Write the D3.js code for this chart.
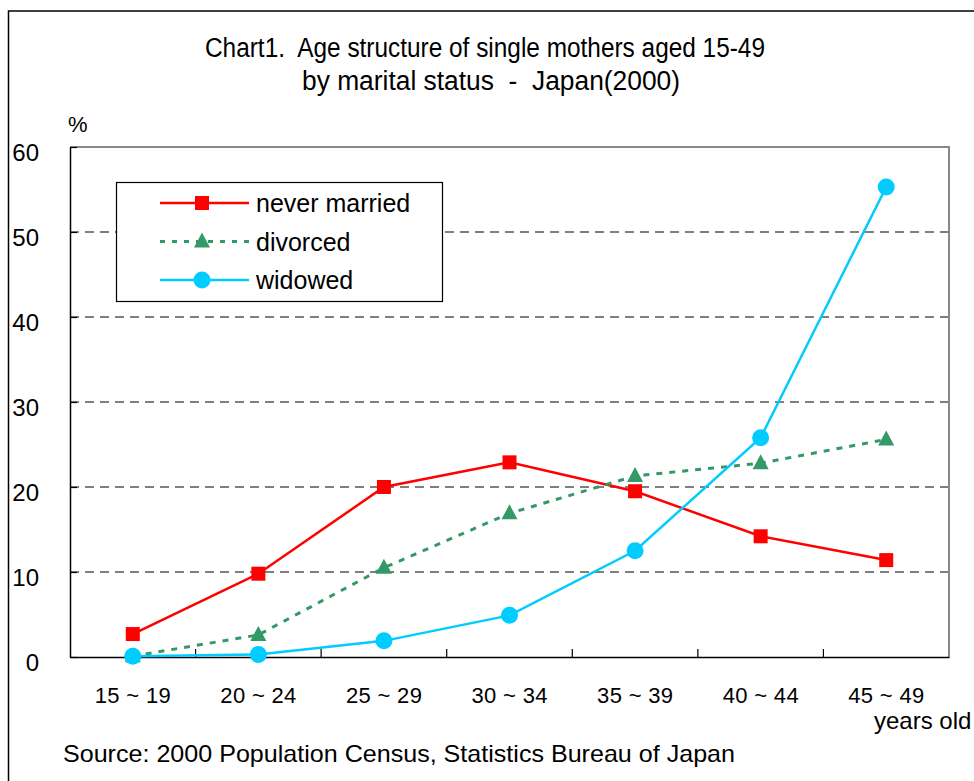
<!DOCTYPE html>
<html>
<head>
<meta charset="utf-8">
<script src="https://cdn.jsdelivr.net/npm/d3@7/dist/d3.min.js"></script>
<style>
  body { margin: 0; background: #fff; }
  svg { display: block; font-family: "Liberation Sans", Arial, sans-serif; }
  text { white-space: pre; }
</style>
</head>
<body>
<div id="vis"></div>
<script>
const frame_width = 974;
const frame_height = 781;
const margins = {left: 70, right: 25, top: 147, bottom: 124};

// data
const age_groups = ["15 ~ 19", "20 ~ 24", "25 ~ 29", "30 ~ 34", "35 ~ 39", "40 ~ 44", "45 ~ 49"];
const never_married = [2.7, 9.8, 20.0, 22.9, 19.5, 14.2, 11.4];
const divorced = [0.1, 2.6, 10.5, 16.9, 21.3, 22.8, 25.6];
const widowed = [0.1, 0.3, 1.9, 4.9, 12.5, 25.8, 55.3];
const y_ticks = [0, 10, 20, 30, 40, 50, 60];

const series = [
    {name: "never married", values: never_married, color: "#ff0000", dash: null, marker: "square"},
    {name: "divorced", values: divorced, color: "#339966", dash: "6,7", marker: "triangle"},
    {name: "widowed", values: widowed, color: "#00ccff", dash: null, marker: "circle"}
];

const FRAME = d3.select("#vis")
    .append("svg")
        .attr("width", frame_width)
        .attr("height", frame_height);

// outer border (runs off the page right and bottom)
FRAME.append("rect")
    .attr("x", 8.5).attr("y", 11)
    .attr("width", 1000).attr("height", 800)
    .attr("fill", "none").attr("stroke", "#000").attr("stroke-width", 1.5);

const X_SCALE = d3.scaleBand()
    .domain(age_groups)
    .range([margins.left, frame_width - margins.right]);

const Y_SCALE = d3.scaleLinear()
    .domain([0, 60])
    .range([frame_height - margins.bottom, margins.top]);

const x0 = margins.left, x1 = frame_width - margins.right;
const y0 = Y_SCALE(0), y1 = Y_SCALE(60);

// grid lines
FRAME.selectAll(".grid")
    .data(y_ticks.filter(d => d > 0 && d < 60))
    .enter()
    .append("line")
        .attr("x1", x0).attr("x2", x1)
        .attr("y1", d => Y_SCALE(d)).attr("y2", d => Y_SCALE(d))
        .attr("stroke", "#555").attr("stroke-width", 1.3)
        .attr("stroke-dasharray", "9,6");

// plot frame top/right (gray)
FRAME.append("path")
    .attr("d", "M" + x0 + "," + y1 + "H" + x1 + "V" + y0)
    .attr("fill", "none").attr("stroke", "#888").attr("stroke-width", 2);

// y axis
const yAxis = FRAME.append("g")
    .attr("transform", "translate(" + x0 + ",0)")
    .call(d3.axisLeft(Y_SCALE).tickValues(y_ticks).tickSizeInner(-7).tickSizeOuter(0).tickPadding(31));
yAxis.select(".domain").attr("stroke", "#000").attr("stroke-width", 1.5);
yAxis.selectAll(".tick line").attr("stroke", "#000").attr("stroke-width", 1.2);
yAxis.selectAll(".tick text")
    .attr("font-size", "24px").attr("fill", "#000")
    .attr("font-family", "Liberation Sans, Arial, sans-serif")
    .attr("dy", "0.55em");

// x axis: boundary ticks + centered labels
const xAxis = FRAME.append("g")
    .attr("transform", "translate(0," + y0 + ")")
    .call(d3.axisBottom(X_SCALE).tickSize(0).tickPadding(30));
xAxis.select(".domain").attr("stroke", "#000").attr("stroke-width", 1.5);
xAxis.selectAll(".tick text")
    .attr("font-size", "22px").attr("fill", "#000")
    .attr("font-family", "Liberation Sans, Arial, sans-serif")
    .attr("textLength", 76).attr("lengthAdjust", "spacing");

FRAME.selectAll(".xtick")
    .data(age_groups.slice(1))
    .enter()
    .append("line")
        .attr("x1", d => X_SCALE(d)).attr("x2", d => X_SCALE(d))
        .attr("y1", y0).attr("y2", y0 - 8)
        .attr("stroke", "#000").attr("stroke-width", 1.2);

// lines
const line = d3.line()
    .x((d, i) => X_SCALE(age_groups[i]) + X_SCALE.bandwidth() / 2)
    .y(d => Y_SCALE(d));

function drawMarker(g, type, color, cx, cy) {
    if (type === "square") {
        g.append("rect").attr("x", cx - 7).attr("y", cy - 7)
            .attr("width", 14).attr("height", 14).attr("fill", color);
    } else if (type === "triangle") {
        g.append("path")
            .attr("d", "M" + cx + "," + (cy - 9) + "L" + (cx + 8) + "," + (cy + 6) + "L" + (cx - 8) + "," + (cy + 6) + "Z")
            .attr("fill", color);
    } else {
        g.append("circle").attr("cx", cx).attr("cy", cy).attr("r", 8.5).attr("fill", color);
    }
}

series.forEach(s => {
    FRAME.append("path")
        .datum(s.values)
        .attr("d", line)
        .attr("fill", "none")
        .attr("stroke", s.color)
        .attr("stroke-width", s.dash ? 3 : 2.5)
        .attr("stroke-dasharray", s.dash);
});
series.forEach(s => {
    const g = FRAME.append("g");
    s.values.forEach((v, i) => {
        drawMarker(g, s.marker, s.color, X_SCALE(age_groups[i]) + X_SCALE.bandwidth() / 2, Y_SCALE(v));
    });
});

// legend
const legend = FRAME.append("g");
legend.append("rect")
    .attr("x", 116.5).attr("y", 182.5).attr("width", 326).attr("height", 119)
    .attr("fill", "#fff").attr("stroke", "#000").attr("stroke-width", 1.2);
series.forEach((s, i) => {
    const ly = 203 + i * 38.5;
    legend.append("line")
        .attr("x1", 160).attr("x2", 249).attr("y1", ly).attr("y2", ly)
        .attr("stroke", s.color).attr("stroke-width", s.dash ? 3 : 2.5)
        .attr("stroke-dasharray", s.dash ? "5,7" : null);
    drawMarker(legend, s.marker, s.color, 202, ly);
    legend.append("text")
        .attr("x", 256).attr("y", ly + 9)
        .attr("font-size", "25px")
        .text(s.name);
});

// titles and notes
FRAME.append("text")
    .attr("x", 485).attr("y", 57).attr("text-anchor", "middle")
    .attr("font-family", "Liberation Sans Narrow, Arial Narrow, sans-serif")
    .attr("font-size", "27px")
    .attr("textLength", 560).attr("lengthAdjust", "spacingAndGlyphs")
    .text("Chart1.  Age structure of single mothers aged 15-49");
FRAME.append("text")
    .attr("x", 491).attr("y", 90).attr("text-anchor", "middle")
    .attr("font-family", "Liberation Sans Narrow, Arial Narrow, sans-serif")
    .attr("font-size", "27px")
    .attr("textLength", 378).attr("lengthAdjust", "spacingAndGlyphs")
    .text("by marital status  -  Japan(2000)");

FRAME.append("text")
    .attr("x", 68).attr("y", 132)
    .attr("font-size", "22px")
    .text("%");

FRAME.append("text")
    .attr("x", 874).attr("y", 729)
    .attr("font-size", "24px")
    .text("years old");

FRAME.append("text")
    .attr("x", 63).attr("y", 762)
    .attr("font-size", "24px")
    .attr("textLength", 672).attr("lengthAdjust", "spacingAndGlyphs")
    .text("Source: 2000 Population Census, Statistics Bureau of Japan");
</script>
</body>
</html>
